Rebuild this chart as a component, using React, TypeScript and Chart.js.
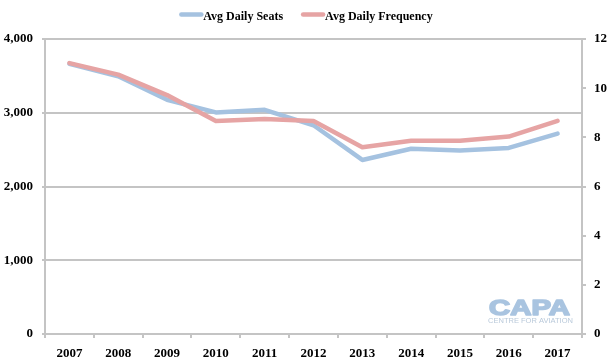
import React, { useEffect, useRef } from "react";
import { Chart, registerables } from "chart.js";

Chart.register(...registerables);

const years = ["2007", "2008", "2009", "2010", "2011", "2012", "2013", "2014", "2015", "2016", "2017"];
const avgDailySeats = [3665, 3495, 3175, 3005, 3040, 2830, 2360, 2512, 2488, 2523, 2717];
const avgDailyFrequency = [11.02, 10.55, 9.72, 8.66, 8.75, 8.66, 7.6, 7.86, 7.86, 8.03, 8.67];
const seatTicks = [0, 1000, 2000, 3000, 4000];
const freqTicks = [0, 2, 4, 6, 8, 10, 12];
const logoText = "CAPA";
const logoSubText = "CENTRE FOR AVIATION";

const BLUE = "#a5c2e0";
const RED = "#e6a4a4";
const GRID = "#c4c4c4";
const SERIF = '"Liberation Serif", "Times New Roman", serif';

const legendPlugin = {
  id: "customLegend",
  afterDraw(chart: any) {
    const ctx = chart.ctx;
    ctx.save();
    ctx.font = `bold 12px ${SERIF}`;
    const items = chart.data.datasets.map((d: any) => ({
      label: d.label,
      color: d.borderColor,
      w: ctx.measureText(d.label).width,
    }));
    const lineW = 23;
    const gapAfterLine = 1;
    const gapItems = 18;
    let total = 0;
    items.forEach((it: any, i: number) => {
      total += lineW + gapAfterLine + it.w + (i < items.length - 1 ? gapItems : 0);
    });
    let x = chart.width / 2 - total / 2;
    items.forEach((it: any) => {
      ctx.strokeStyle = it.color;
      ctx.lineWidth = 4.5;
      ctx.lineCap = "round";
      ctx.beginPath();
      ctx.moveTo(x + 2, 14.5);
      ctx.lineTo(x + lineW - 1, 14.5);
      ctx.stroke();
      ctx.fillStyle = "#000";
      ctx.textAlign = "left";
      ctx.textBaseline = "middle";
      ctx.fillText(it.label, x + lineW + gapAfterLine, 16.5);
      x += lineW + gapAfterLine + it.w + gapItems;
    });
    ctx.restore();
  },
};

const logoPlugin = {
  id: "capaLogo",
  afterDraw(chart: any) {
    const ctx = chart.ctx;
    const area = chart.chartArea;
    const left = area.right - 94;
    ctx.save();
    ctx.fillStyle = "#a9c4e0";
    ctx.strokeStyle = "#a9c4e0";
    ctx.lineWidth = 1.6;
    ctx.lineJoin = "round";
    ctx.font = 'bold 22px "Liberation Sans", Arial, sans-serif';
    ctx.textBaseline = "alphabetic";
    ctx.textAlign = "left";
    const w = ctx.measureText(logoText).width;
    ctx.translate(left + 1, area.bottom - 19);
    ctx.scale(81 / w, 1);
    ctx.fillText(logoText, 0, 0);
    ctx.strokeText(logoText, 0, 0);
    ctx.restore();

    ctx.save();
    ctx.fillStyle = "#b9c9da";
    ctx.font = '7px "Liberation Sans", Arial, sans-serif';
    ctx.textBaseline = "middle";
    ctx.textAlign = "left";
    const w2 = ctx.measureText(logoSubText).width;
    ctx.translate(left, area.bottom - 13);
    ctx.scale(85 / w2, 1);
    ctx.fillText(logoSubText, 0, 0);
    ctx.restore();
  },
};

export default function App() {
  const ref = useRef<HTMLCanvasElement | null>(null);
  useEffect(() => {
    if (!ref.current) return;
    const tickFont = { family: SERIF, size: 13, weight: "bold" as const };
    const chart = new Chart(ref.current, {
      type: "line",
      data: {
        labels: years,
        datasets: [
          {
            label: "Avg Daily Seats",
            data: avgDailySeats,
            borderColor: BLUE,
            backgroundColor: BLUE,
            borderWidth: 4.5,
            pointRadius: 0,
            tension: 0,
            yAxisID: "y",
            order: 2,
            borderCapStyle: "round",
            borderJoinStyle: "round",
          },
          {
            label: "Avg Daily Frequency",
            data: avgDailyFrequency,
            borderColor: RED,
            backgroundColor: RED,
            borderWidth: 4.5,
            pointRadius: 0,
            tension: 0,
            yAxisID: "y1",
            order: 1,
            borderCapStyle: "round",
            borderJoinStyle: "round",
          },
        ],
      },
      options: {
        animation: false,
        responsive: false,
        devicePixelRatio: 1,
        layout: { padding: { top: 39, left: 0, right: 0, bottom: 0 } },
        plugins: {
          legend: { display: false },
          tooltip: { enabled: false },
        },
        scales: {
          x: {
            offset: true,
            afterFit: (s: any) => {
              s.height = 29;
            },
            grid: {
              display: true,
              offset: true,
              drawOnChartArea: false,
              drawTicks: true,
              tickLength: 4,
              color: GRID,
              lineWidth: 2,
            },
            border: { display: true, color: GRID, width: 2 },
            ticks: {
              font: tickFont,
              color: "#000",
              padding: 8,
              maxRotation: 0,
              autoSkip: false,
            },
          },
          y: {
            position: "left",
            min: 0,
            max: 4000,
            afterFit: (s: any) => {
              s.width = 45;
            },
            afterBuildTicks: (s: any) => {
              s.ticks = seatTicks.map((v) => ({ value: v }));
            },
            grid: {
              color: GRID,
              lineWidth: 2,
              drawTicks: true,
              tickLength: 3,
            },
            border: { display: true, color: GRID, width: 2 },
            ticks: {
              font: tickFont,
              color: "#000",
              padding: 9,
              callback: (v: any) => Number(v).toLocaleString("en-US"),
            },
          },
          y1: {
            position: "right",
            min: 0,
            max: 12,
            afterFit: (s: any) => {
              s.width = 30;
            },
            afterBuildTicks: (s: any) => {
              s.ticks = freqTicks.map((v) => ({ value: v }));
            },
            grid: {
              drawOnChartArea: false,
              drawTicks: true,
              tickLength: 4,
              color: GRID,
              lineWidth: 2,
            },
            border: { display: true, color: GRID, width: 2 },
            ticks: {
              font: tickFont,
              color: "#000",
              padding: 8,
            },
          },
        },
      },
      plugins: [legendPlugin, logoPlugin],
    });
    return () => chart.destroy();
  }, []);
  return (
    <div style={{ position: "absolute", left: 0, top: 0, width: 612, height: 363, background: "#fff" }}>
      <canvas ref={ref} width={612} height={363} style={{ width: 612, height: 363 }} />
    </div>
  );
}
